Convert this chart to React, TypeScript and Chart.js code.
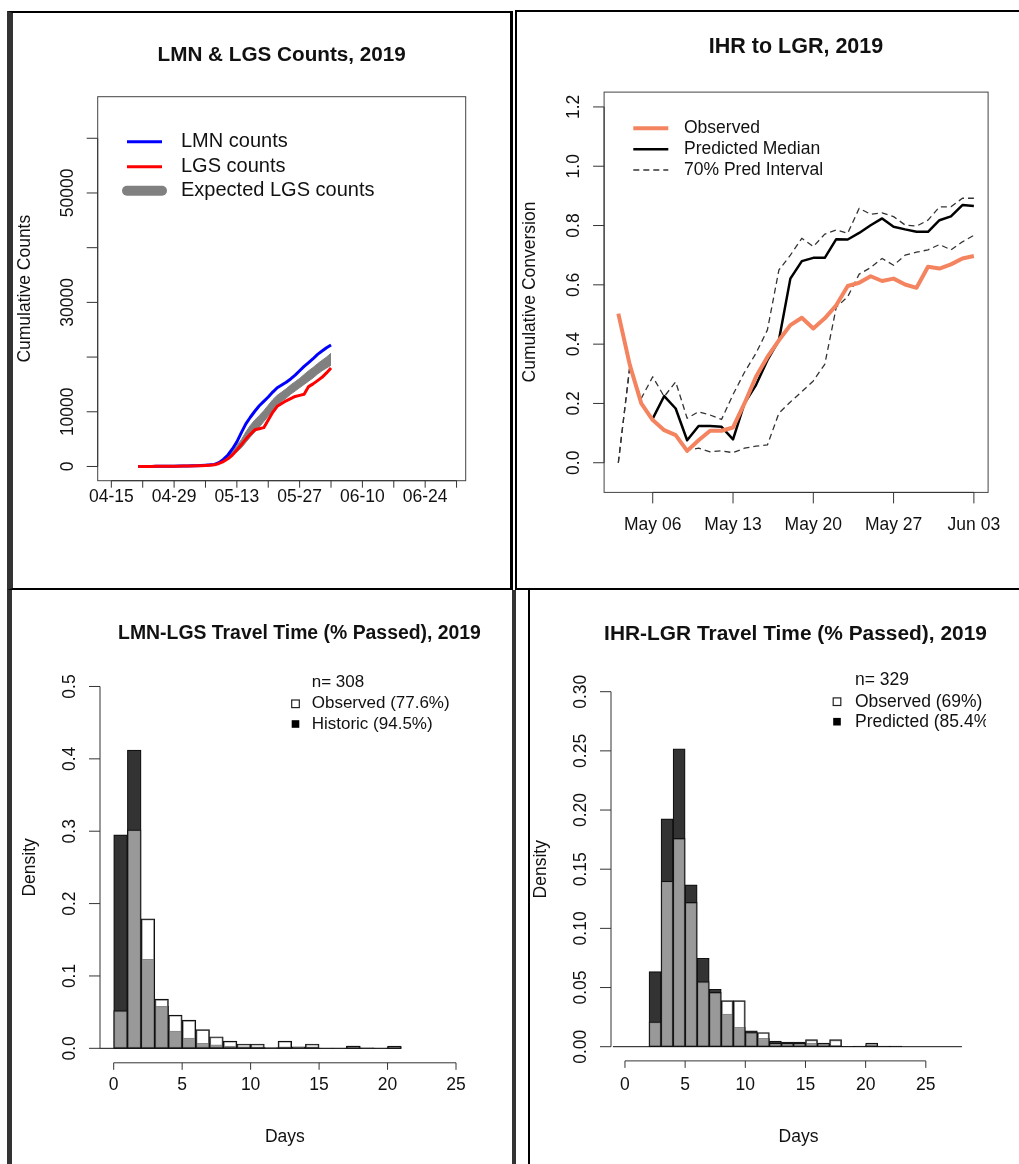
import React, { useEffect, useRef } from "react";
import { Chart, registerables } from "chart.js";

Chart.register(...registerables);

const FONT = '"Liberation Sans", Arial, Helvetica, sans-serif';

// ---------------- Panel 1: LMN & LGS Counts, 2019 ----------------
const countDates = [
  "04-21", "04-22", "04-23", "04-24", "04-25", "04-26", "04-27", "04-28", "04-29", "04-30",
  "05-01", "05-02", "05-03", "05-04", "05-05", "05-06", "05-07", "05-08", "05-09", "05-10",
  "05-11", "05-12", "05-13", "05-14", "05-15", "05-16", "05-17", "05-18", "05-19", "05-20",
  "05-21", "05-22", "05-23", "05-24", "05-25", "05-26", "05-27", "05-28", "05-29", "05-30",
  "05-31", "06-01", "06-02", "06-03",
];
const lmnCounts = [
  0, 5, 10, 15, 20, 30, 40, 50, 60, 70, 85, 100, 120, 150, 190, 240, 300, 380, 700, 1300,
  2100, 3200, 4500, 6200, 7800, 9000, 10100, 11100, 11900, 12700, 13600, 14400, 14900, 15400,
  16000, 16700, 17500, 18300, 19000, 19700, 20500, 21100, 21700, 22200,
];
const lgsCounts = [
  0, 5, 10, 15, 20, 25, 30, 40, 50, 60, 70, 85, 100, 120, 150, 190, 240, 300, 550, 900,
  1400, 2100, 3000, 4000, 5000, 5900, 6700, 6900, 7100, 8500, 9900, 11000, 11500, 12000,
  12400, 12800, 13000, 13200, 14600, 15100, 15700, 16300, 17100, 18000,
];
const expectedHigh = [
  0, 5, 10, 15, 20, 28, 35, 45, 55, 65, 78, 92, 110, 135, 170, 215, 270, 330, 650, 1150,
  1800, 2700, 3800, 4900, 6300, 7500, 8500, 9300, 10200, 11200, 12200, 13000, 13600, 14200,
  14900, 15500, 16100, 16800, 17500, 18100, 18800, 19400, 20000, 20700,
];
const expectedLow = [
  0, 5, 10, 15, 20, 25, 30, 40, 50, 60, 70, 85, 100, 120, 150, 190, 240, 300, 580, 950,
  1400, 2000, 2700, 3400, 4400, 5400, 6300, 7200, 8200, 9200, 10200, 11200, 11900, 12500,
  13200, 13800, 14400, 15000, 15600, 16200, 16900, 17500, 18000, 18500,
];
const countTickDates = ["04-15", "04-22", "04-29", "05-06", "05-13", "05-20", "05-27", "06-03", "06-10", "06-17", "06-24", "07-01"];
const countTickLabels = ["04-15", "", "04-29", "", "05-13", "", "05-27", "", "06-10", "", "06-24", ""];
const countYTicks = [0, 10000, 20000, 30000, 40000, 50000, 60000];
const countYTickLabels = ["0", "10000", "", "30000", "", "50000", ""];

// ---------------- Panel 2: IHR to LGR, 2019 ----------------
const convDates = [
  "May 03", "May 04", "May 05", "May 06", "May 07", "May 08", "May 09", "May 10", "May 11", "May 12",
  "May 13", "May 14", "May 15", "May 16", "May 17", "May 18", "May 19", "May 20", "May 21", "May 22",
  "May 23", "May 24", "May 25", "May 26", "May 27", "May 28", "May 29", "May 30", "May 31", "Jun 01",
  "Jun 02", "Jun 03",
];
const convObserved = [
  0.503, 0.33, 0.2, 0.144, 0.11, 0.093, 0.04, 0.076, 0.108, 0.108, 0.119, 0.2, 0.29, 0.357, 0.413, 0.464,
  0.489, 0.453, 0.487, 0.531, 0.596, 0.607, 0.629, 0.613, 0.621, 0.601, 0.59, 0.661, 0.655, 0.669, 0.689, 0.697,
];
const convMedian = [
  null, null, null, 0.149, 0.225, 0.183, 0.076, 0.124, 0.124, 0.121, 0.079, 0.2, 0.262, 0.346, 0.413, 0.621,
  0.68, 0.691, 0.691, 0.754, 0.753, 0.775, 0.801, 0.824, 0.796, 0.787, 0.779, 0.779, 0.818, 0.831, 0.869, 0.866,
];
const convUpper = [
  0.0, 0.324, 0.217, 0.29, 0.223, 0.273, 0.15, 0.172, 0.161, 0.146, 0.23, 0.305, 0.369, 0.448, 0.65, 0.7,
  0.757, 0.729, 0.771, 0.785, 0.774, 0.858, 0.838, 0.843, 0.83, 0.802, 0.798, 0.818, 0.863, 0.863, 0.892, 0.892,
];
const convLower = [
  0.0, 0.324, 0.2, 0.144, 0.11, 0.093, 0.043, 0.049, 0.037, 0.04, 0.034, 0.049, 0.056, 0.06, 0.167, 0.205,
  0.24, 0.276, 0.332, 0.524, 0.56, 0.636, 0.658, 0.689, 0.666, 0.7, 0.71, 0.718, 0.736, 0.718, 0.745, 0.767,
];
const convTickLabels = ["May 06", "May 13", "May 20", "May 27", "Jun 03"];
const convYTicks = [0, 0.2, 0.4, 0.6, 0.8, 1.0, 1.2];
const convYTickLabels = ["0.0", "0.2", "0.4", "0.6", "0.8", "1.0", "1.2"];

// ---------------- Panel 3: LMN-LGS Travel Time ----------------
const lgsBins = [-1, 0, 1, 2, 3, 4, 5, 6, 7, 8, 9, 10, 11, 12, 13, 14, 15, 16, 17, 18, 19, 20];
const lgsObserved = [0, 0.052, 0.302, 0.179, 0.068, 0.046, 0.039, 0.026, 0.016, 0.01, 0.006, 0.006, 0, 0.01, 0, 0.006, 0, 0, 0.003, 0, 0, 0.003];
const lgsHistoric = [0, 0.295, 0.412, 0.123, 0.058, 0.024, 0.014, 0.007, 0.005, 0.003, 0.002, 0.0015, 0.001, 0.001, 0.002, 0.001, 0.0005, 0.0005, 0.003, 0.0008, 0.0005, 0.002];
const lgsYTicks = [0, 0.1, 0.2, 0.3, 0.4, 0.5];
const lgsYTickLabels = ["0.0", "0.1", "0.2", "0.3", "0.4", "0.5"];

// ---------------- Panel 4: IHR-LGR Travel Time ----------------
const lgrBins = [-1, 0, 1, 2, 3, 4, 5, 6, 7, 8, 9, 10, 11, 12, 13, 14, 15, 16, 17, 18, 19, 20, 21, 22, 23, 24, 25, 26, 27];
const lgrObserved = [0, 0, 0, 0.021, 0.14, 0.176, 0.122, 0.055, 0.046, 0.039, 0.039, 0.012, 0.012, 0.003, 0.003, 0.003, 0.006, 0.003, 0.006, 0, 0, 0.003, 0, 0, 0, 0, 0, 0, 0];
const lgrPredicted = [0, 0, 0, 0.0635, 0.1926, 0.2518, 0.1368, 0.0747, 0.0485, 0.0276, 0.0164, 0.0135, 0.0071, 0.0048, 0.004, 0.004, 0.003, 0.002, 0.0006, 0.0003, 0.0005, 0.0015, 0.0006, 0.0006, 0, 0, 0, 0, 0];
const lgrYTicks = [0, 0.05, 0.1, 0.15, 0.2, 0.25, 0.3];
const lgrYTickLabels = ["0.00", "0.05", "0.10", "0.15", "0.20", "0.25", "0.30"];

const dayTicks = [0, 5, 10, 15, 20, 25];
const dayTickLabels = ["0", "5", "10", "15", "20", "25"];

// ---------------- helpers ----------------
const MONTH_START: Record<string, number> = { "04": 90, "05": 120, "06": 151, "07": 181 };
function dayIndex(md: string): number {
  const [m, d] = md.split("-");
  return MONTH_START[m] + Number(d) - (MONTH_START["04"] + 15);
}

type Rect = { x: number; y: number; w: number; h: number };
type Box = { l: number; t: number; r: number; b: number };
type TextItem = { s: string; x: number; y: number; size: number; bold?: boolean; rot?: boolean; align?: CanvasTextAlign };
type LegendItem = { kind: "line" | "band" | "dash" | "openSq" | "fillSq" | "none"; color?: string; width?: number; label: string; y: number };
type Legend = { symX0: number; symX1: number; textX: number; size: number; items: LegendItem[]; clip?: boolean };
interface Deco {
  origin: Rect;
  box: boolean;
  xTicks: number[];
  xTickLabels: string[];
  yTicks: number[];
  yTickLabels: string[];
  xTickLen: number;
  xLabY: number; // page y of x tick label centres
  texts: TextItem[];
  legend: Legend;
  baseline?: [number, number];
}

const YTICK = 11;
const YLAB_OFF = 29.5;
const TICK_FONT = 17.5;

function padFor(p: Rect, b: Box) {
  return { left: b.l - p.x, top: b.t - p.y, right: p.x + p.w - b.r, bottom: p.y + p.h - b.b };
}

function putText(ctx: CanvasRenderingContext2D, s: string, x: number, y: number, size: number, bold = false, rot = false, align: CanvasTextAlign = "center") {
  ctx.save();
  ctx.font = `${bold ? "bold " : ""}${size}px ${FONT}`;
  ctx.fillStyle = "#111";
  ctx.textAlign = align;
  ctx.textBaseline = "middle";
  ctx.translate(x, y);
  if (rot) ctx.rotate(-Math.PI / 2);
  ctx.fillText(s, 0, 0);
  ctx.restore();
}

function makeDeco(d: Deco) {
  return {
    id: "rdeco",
    afterDatasetsDraw(chart: any) {
      const ctx: CanvasRenderingContext2D = chart.ctx;
      const a = chart.chartArea;
      const xs = chart.scales.x;
      const ys = chart.scales.y;
      const ox = d.origin.x;
      const oy = d.origin.y;
      ctx.save();
      ctx.lineWidth = 1;
      if (d.baseline) {
        ctx.strokeStyle = "#111";
        const y0 = ys.getPixelForValue(0);
        ctx.beginPath();
        ctx.moveTo(xs.getPixelForValue(d.baseline[0]), y0);
        ctx.lineTo(xs.getPixelForValue(d.baseline[1]), y0);
        ctx.stroke();
      }
      if (d.box) {
        ctx.strokeStyle = "#444";
        ctx.strokeRect(a.left, a.top, a.right - a.left, a.bottom - a.top);
      }
      ctx.strokeStyle = "#333";
      const yp = d.yTicks.map((v) => ys.getPixelForValue(v));
      const xp = d.xTicks.map((v) => xs.getPixelForValue(v));
      ctx.beginPath();
      ctx.moveTo(a.left, yp[0]);
      ctx.lineTo(a.left, yp[yp.length - 1]);
      for (const p of yp) {
        ctx.moveTo(a.left, p);
        ctx.lineTo(a.left - YTICK, p);
      }
      ctx.moveTo(xp[0], a.bottom);
      ctx.lineTo(xp[xp.length - 1], a.bottom);
      for (const p of xp) {
        ctx.moveTo(p, a.bottom);
        ctx.lineTo(p, a.bottom + d.xTickLen);
      }
      ctx.stroke();
      yp.forEach((p, i) => {
        if (d.yTickLabels[i]) putText(ctx, d.yTickLabels[i], a.left - YLAB_OFF, p, TICK_FONT, false, true);
      });
      xp.forEach((p, i) => {
        if (d.xTickLabels[i]) putText(ctx, d.xTickLabels[i], p, d.xLabY - oy, TICK_FONT);
      });
      for (const t of d.texts) putText(ctx, t.s, t.x - ox, t.y - oy, t.size, !!t.bold, !!t.rot, t.align ?? "center");

      const L = d.legend;
      ctx.save();
      if (L.clip) {
        ctx.beginPath();
        ctx.rect(0, 0, a.right, chart.height);
        ctx.clip();
      }
      for (const it of L.items) {
        const y = it.y - oy;
        const x0 = L.symX0 - ox;
        const x1 = L.symX1 - ox;
        if (it.kind === "line" || it.kind === "dash" || it.kind === "band") {
          ctx.beginPath();
          ctx.setLineDash(it.kind === "dash" ? [6, 4] : []);
          ctx.lineCap = it.kind === "band" ? "round" : "butt";
          ctx.lineWidth = it.width ?? 1;
          ctx.strokeStyle = it.color ?? "#000";
          ctx.moveTo(x0, y);
          ctx.lineTo(x1, y);
          ctx.stroke();
          ctx.setLineDash([]);
        } else if (it.kind === "openSq") {
          ctx.lineWidth = 1.2;
          ctx.strokeStyle = "#222";
          ctx.strokeRect(x0 - 3.8, y - 3.8, 7.6, 7.6);
        } else if (it.kind === "fillSq") {
          ctx.fillStyle = "#000";
          ctx.fillRect(x0 - 3.8, y - 3.8, 7.6, 7.6);
        }
        putText(ctx, it.label, L.textX - ox, y, L.size, false, false, "left");
      }
      ctx.restore();
      ctx.restore();
    },
  };
}

function baseOptions(panel: Rect, plot: Box, xr: [number, number], yr: [number, number]) {
  return {
    animation: false as const,
    responsive: true,
    maintainAspectRatio: false,
    events: [] as any[],
    layout: { padding: padFor(panel, plot) },
    plugins: { legend: { display: false }, title: { display: false }, tooltip: { enabled: false } },
    scales: {
      x: { type: "linear" as const, min: xr[0], max: xr[1], display: false, offset: false },
      y: { type: "linear" as const, min: yr[0], max: yr[1], display: false },
    },
  };
}

// ---------------- panel geometry (page pixels) ----------------
const P_TL: Rect = { x: 7, y: 11, w: 506, h: 579 };
const P_TR: Rect = { x: 515, y: 10, w: 504, h: 580 };
const P_BL: Rect = { x: 7, y: 590, w: 509, h: 574 };
const P_BR: Rect = { x: 528, y: 589, w: 491, h: 575 };

const B_TL: Box = { l: 97.7, t: 96.7, r: 465.7, b: 480.7 };
const B_TR: Box = { l: 604.1, t: 92.1, r: 988.1, b: 492.4 };
const B_BL: Box = { l: 100, t: 672, r: 469.7, b: 1062.8 };
const B_BR: Box = { l: 611, t: 677.5, r: 986, b: 1060.9 };

function makeCounts(canvas: HTMLCanvasElement) {
  const pts = (vals: number[]) => countDates.map((d, i) => ({ x: dayIndex(d), y: vals[i] }));
  const deco = makeDeco({
    origin: P_TL,
    box: true,
    xTicks: countTickDates.map(dayIndex),
    xTickLabels: countTickLabels,
    yTicks: countYTicks,
    yTickLabels: countYTickLabels,
    xTickLen: 7,
    xLabY: 497,
    texts: [
      { s: "LMN & LGS Counts, 2019", x: 281.7, y: 55, size: 20.7, bold: true },
      { s: "Cumulative Counts", x: 25, y: 288.7, size: 17.5, rot: true },
    ],
    legend: {
      symX0: 127, symX1: 162, textX: 181, size: 20,
      items: [
        { kind: "line", color: "#0000FF", width: 3, label: "LMN counts", y: 141.7 },
        { kind: "line", color: "#FF0000", width: 3, label: "LGS counts", y: 166.7 },
        { kind: "band", color: "#808080", width: 10, label: "Expected LGS counts", y: 190.7 },
      ],
    },
  });
  const line = { pointRadius: 0, borderJoinStyle: "round" as const, tension: 0 };
  return new Chart(canvas, {
    type: "line",
    data: {
      datasets: [
        { label: "LGS counts", data: pts(lgsCounts), borderColor: "#FF0000", borderWidth: 3, fill: false, ...line },
        { label: "LMN counts", data: pts(lmnCounts), borderColor: "#0000FF", borderWidth: 3, fill: false, ...line },
        { label: "Expected LGS counts (high)", data: pts(expectedHigh), borderColor: "#808080", backgroundColor: "#808080", borderWidth: 1, fill: "+1", ...line },
        { label: "Expected LGS counts (low)", data: pts(expectedLow), borderColor: "#808080", borderWidth: 1, fill: false, ...line },
      ],
    },
    options: baseOptions(P_TL, B_TL, [-3.04, 79.04], [-2600, 67600]) as any,
    plugins: [deco],
  });
}

function makeConversion(canvas: HTMLCanvasElement) {
  const pts = (vals: (number | null)[]) => convDates.map((_, i) => ({ x: i, y: vals[i] }));
  const deco = makeDeco({
    origin: P_TR,
    box: true,
    xTicks: convTickLabels.map((l) => convDates.indexOf(l)),
    xTickLabels: convTickLabels,
    yTicks: convYTicks,
    yTickLabels: convYTickLabels,
    xTickLen: 11,
    xLabY: 525,
    texts: [
      { s: "IHR to LGR, 2019", x: 796, y: 47, size: 21.5, bold: true },
      { s: "Cumulative Conversion", x: 530, y: 292, size: 17.5, rot: true },
    ],
    legend: {
      symX0: 633.3, symX1: 668.3, textX: 684, size: 17.5,
      items: [
        { kind: "line", color: "#F4845F", width: 4, label: "Observed", y: 128.3 },
        { kind: "line", color: "#000000", width: 2.5, label: "Predicted Median", y: 149.3 },
        { kind: "dash", color: "#333333", width: 1.3, label: "70% Pred Interval", y: 170 },
      ],
    },
  });
  const line = { pointRadius: 0, borderJoinStyle: "round" as const, tension: 0, fill: false };
  return new Chart(canvas, {
    type: "line",
    data: {
      datasets: [
        { label: "Observed", data: pts(convObserved), borderColor: "#F4845F", borderWidth: 4, ...line },
        { label: "Predicted Median", data: pts(convMedian), borderColor: "#000000", borderWidth: 2.5, ...line },
        { label: "70% Pred Interval (upper)", data: pts(convUpper), borderColor: "#333333", borderWidth: 1.3, borderDash: [6, 4], ...line },
        { label: "70% Pred Interval (lower)", data: pts(convLower), borderColor: "#333333", borderWidth: 1.3, borderDash: [6, 4], ...line },
      ],
    },
    options: baseOptions(P_TR, B_TR, [-1.24, 32.24], [-0.1, 1.25]) as any,
    plugins: [deco],
  });
}

function makeHist(
  canvas: HTMLCanvasElement,
  panel: Rect,
  plot: Box,
  bins: number[],
  observed: number[],
  other: number[],
  yTicks: number[],
  yTickLabels: string[],
  xr: [number, number],
  yr: [number, number],
  title: string,
  titleX: number,
  titleSize: number,
  yLabelX: number,
  legend: Legend,
  otherName: string,
) {
  const pts = (vals: number[]) => bins.map((b, i) => ({ x: b + 0.5, y: vals[i] > 0 ? vals[i] : null }));
  const cx = (plot.l + plot.r) / 2;
  const deco = makeDeco({
    origin: panel,
    box: false,
    xTicks: dayTicks,
    xTickLabels: dayTickLabels,
    yTicks,
    yTickLabels,
    xTickLen: 7,
    xLabY: 1085,
    baseline: [bins[0], bins[bins.length - 1] + 1],
    texts: [
      { s: title, x: titleX, y: 634, size: titleSize, bold: true },
      { s: "Density", x: yLabelX, y: (plot.t + plot.b) / 2, size: 17.5, rot: true },
      { s: "Days", x: cx, y: 1137, size: 17.5 },
    ],
    legend,
  });
  const bar = { borderColor: "#111", borderWidth: 1.2, borderSkipped: false as const, grouped: false, categoryPercentage: 1, barPercentage: 1 };
  return new Chart(canvas, {
    type: "bar",
    data: {
      datasets: [
        { label: "Observed", data: pts(observed), backgroundColor: "rgba(255,255,255,0.5)", ...bar },
        { label: otherName, data: pts(other), backgroundColor: "#333333", ...bar },
      ],
    },
    options: baseOptions(panel, plot, xr, yr) as any,
    plugins: [deco],
  });
}

function Panel({ rect, border, make }: { rect: Rect; border: React.CSSProperties; make: (c: HTMLCanvasElement) => Chart }) {
  const ref = useRef<HTMLCanvasElement>(null);
  useEffect(() => {
    const chart = make(ref.current!);
    return () => chart.destroy();
  }, []);
  return (
    <div style={{ position: "absolute", left: rect.x, top: rect.y, width: rect.w, height: rect.h }}>
      <canvas ref={ref} />
      <div style={{ position: "absolute", left: 0, top: 0, right: 0, bottom: 0, boxSizing: "border-box", pointerEvents: "none", ...border }} />
    </div>
  );
}

export default function App() {
  return (
    <div style={{ position: "absolute", left: 0, top: 0, width: 1019, height: 1164, background: "#fff", overflow: "hidden" }}>
      <Panel
        rect={P_TL}
        border={{ borderTop: "2px solid #000", borderLeft: "6px solid #333", borderRight: "3px solid #000", borderBottom: "2px solid #000" }}
        make={makeCounts}
      />
      <Panel
        rect={P_TR}
        border={{ borderTop: "2px solid #000", borderLeft: "2px solid #000", borderBottom: "2px solid #000" }}
        make={makeConversion}
      />
      <Panel
        rect={P_BL}
        border={{ borderLeft: "5px solid #333", borderRight: "4px solid #333" }}
        make={(c) =>
          makeHist(c, P_BL, B_BL, lgsBins, lgsObserved, lgsHistoric, lgsYTicks, lgsYTickLabels, [-1, 26], [-0.02, 0.52],
            "LMN-LGS Travel Time (% Passed), 2019", 299.5, 19.4, 30,
            {
              symX0: 295.5, symX1: 295.5, textX: 311.7, size: 17,
              items: [
                { kind: "none", label: "n= 308", y: 682 },
                { kind: "openSq", label: "Observed (77.6%)", y: 703.8 },
                { kind: "fillSq", label: "Historic (94.5%)", y: 724 },
              ],
            }, "Historic")
        }
      />
      <Panel
        rect={P_BR}
        border={{ borderLeft: "2px solid #000" }}
        make={(c) =>
          makeHist(c, P_BR, B_BR, lgrBins, lgrObserved, lgrPredicted, lgrYTicks, lgrYTickLabels, [-1.16, 30], [-0.012, 0.312],
            "IHR-LGR Travel Time (% Passed), 2019", 795.5, 20.9, 541,
            {
              symX0: 837, symX1: 837, textX: 855, size: 17.5, clip: true,
              items: [
                { kind: "none", label: "n= 329", y: 680 },
                { kind: "openSq", label: "Observed (69%)", y: 701.7 },
                { kind: "fillSq", label: "Predicted (85.4%)", y: 721.7 },
              ],
            }, "Predicted")
        }
      />
    </div>
  );
}
